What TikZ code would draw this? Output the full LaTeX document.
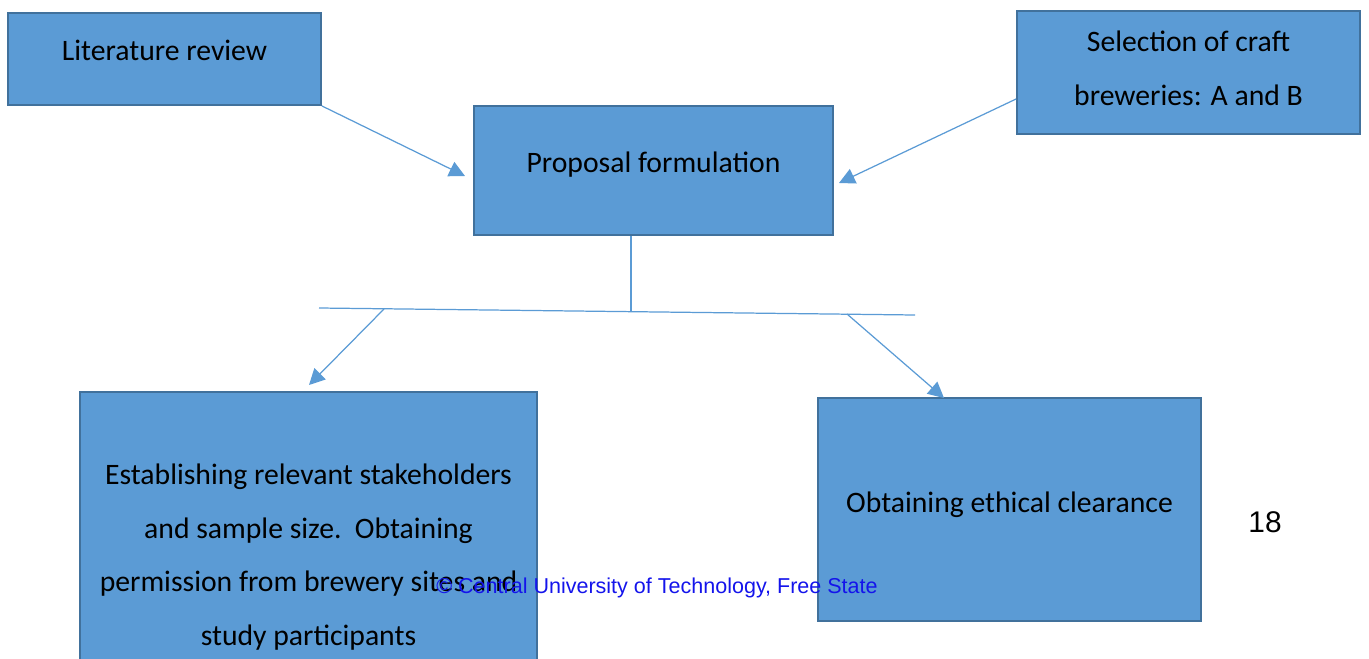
\documentclass[tikz,border=0pt]{standalone}
\usepackage{fontspec}
\usepackage{xcolor}
\usetikzlibrary{shapes,arrows.meta,positioning,calc}
\setmainfont{Carlito}
\newfontfamily\arialfont{Liberation Sans}
\definecolor{boxfill}{HTML}{5B9BD5}
\definecolor{boxedge}{HTML}{41719C}
\definecolor{footblue}{RGB}{20,20,235}
% text sits a little above the middle of each box
\newcommand{\liftby}[2]{\raisebox{#1}[\height][\depth]{#2}}

\begin{document}
\begin{tikzpicture}[
    x=0.02cm, y=-0.02cm,
    stage/.style={rectangle, draw=boxedge, fill=boxfill, line width=1.1pt, text centered, align=center, font=\fontsize{16.9}{30.6}\selectfont},
    line/.style={draw=boxfill, line width=0.7pt},
    arrow/.style={line, -{Triangle[length=9pt, width=9pt]}}
]
\useasboundingbox (0,0) rectangle (1369,659);

% Top row
\node (lit) [stage, minimum width=6.26cm, minimum height=1.84cm] at (164.5,59) {\liftby{5pt}{Literature review}};
\node (prop) [stage, minimum width=7.18cm, minimum height=2.58cm] at (653.5,170.5) {\liftby{3.4pt}{Proposal formulation}};
\node (sel) [stage, minimum width=6.86cm, minimum height=2.46cm] at (1188.5,72.5) {\liftby{2.6pt}{Selection of craft}\\\liftby{2.6pt}{breweries: A and B}};

% Bottom row
\node (est) [stage, minimum width=9.14cm, minimum height=6.6cm] at (308.5,557) {Establishing relevant stakeholders\\and sample size.\ \ Obtaining\\permission from brewery sites and\\study participants};
\node (eth) [stage, minimum width=7.66cm, minimum height=4.46cm] at (1009.5,509.5) {\liftby{2.8pt}{Obtaining ethical clearance}};

% Page number and footer
\node (page) [font=\arialfont\fontsize{17}{20}\selectfont] at (1265,522) {18};
\node (foot) [font=\arialfont\fontsize{12.25}{14}\selectfont, text=footblue] at (657,588) {\textcopyright{} Central University of Technology, Free State};

% Connector points
\coordinate (litend) at (465,176);
\coordinate (selend) at (839,183);
\coordinate (barl) at (319,308);
\coordinate (barr) at (915,315);
\coordinate (barm) at (631,311);
\coordinate (forkl) at (384,309);
\coordinate (forkr) at (847,314);
\coordinate (estend) at (309,385);
\coordinate (ethend) at (944,398);

% Arrows
\draw [arrow] (lit.south east) -- (litend);
\draw [arrow] ($(sel.west)+(0,26.5)$) -- (selend);
\draw [line] (prop.south -| barm) -- (barm);
\draw [line] (barl) -- (barr);
\draw [arrow] (forkl) -- (estend);
\draw [arrow] (forkr) -- (ethend);

\end{tikzpicture}
\end{document}
